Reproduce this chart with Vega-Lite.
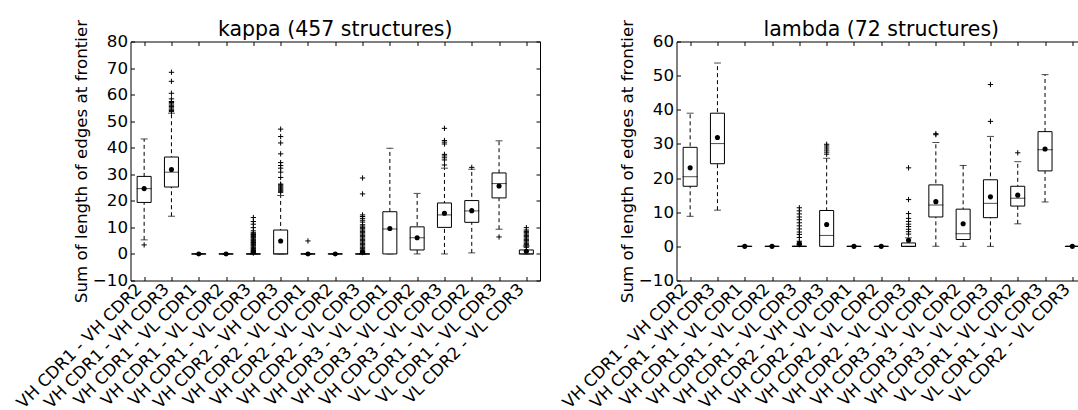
{
  "$schema": "https://vega.github.io/schema/vega-lite/v6.json",
  "background": "white",
  "padding": {"left": 13.5, "top": 18.5, "right": 0, "bottom": 0},
  "spacing": 136,
  "bounds": "flush",
  "datasets": {
    "kstats": [
      {"c": "VH CDR1 - VH CDR2", "q1": 19.4, "med": 24.6, "q3": 29.2, "lo": 5.3, "hi": 43.3, "mean": 24.6},
      {"c": "VH CDR1 - VH CDR3", "q1": 25.2, "med": 30.8, "q3": 36.5, "lo": 14.2, "hi": 53.0, "mean": 31.8},
      {"c": "VH CDR1 - VL CDR1", "q1": 0, "med": 0, "q3": 0, "lo": 0, "hi": 0, "mean": 0},
      {"c": "VH CDR1 - VL CDR2", "q1": 0, "med": 0, "q3": 0, "lo": 0, "hi": 0, "mean": 0},
      {"c": "VH CDR1 - VL CDR3", "q1": 0, "med": 0, "q3": 0, "lo": 0, "hi": 0, "mean": 0.8},
      {"c": "VH CDR2 - VH CDR3", "q1": 0, "med": 0, "q3": 9.0, "lo": 0, "hi": 22.0, "mean": 4.9},
      {"c": "VH CDR2 - VL CDR1", "q1": 0, "med": 0, "q3": 0, "lo": 0, "hi": 0, "mean": 0},
      {"c": "VH CDR2 - VL CDR2", "q1": 0, "med": 0, "q3": 0, "lo": 0, "hi": 0, "mean": 0},
      {"c": "VH CDR2 - VL CDR3", "q1": 0, "med": 0, "q3": 0, "lo": 0, "hi": 0, "mean": 0.8},
      {"c": "VH CDR3 - VL CDR1", "q1": 0, "med": 9.4, "q3": 15.9, "lo": 0, "hi": 39.8, "mean": 9.6},
      {"c": "VH CDR3 - VL CDR2", "q1": 1.5, "med": 6.1, "q3": 10.2, "lo": 0, "hi": 22.8, "mean": 6.1},
      {"c": "VH CDR3 - VL CDR3", "q1": 10.0, "med": 14.7, "q3": 19.2, "lo": 0, "hi": 32.3, "mean": 15.3},
      {"c": "VL CDR1 - VL CDR2", "q1": 11.9, "med": 16.2, "q3": 20.1, "lo": 0.4, "hi": 31.9, "mean": 16.3},
      {"c": "VL CDR1 - VL CDR3", "q1": 21.1, "med": 26.5, "q3": 30.5, "lo": 9.3, "hi": 42.6, "mean": 25.6},
      {"c": "VL CDR2 - VL CDR3", "q1": 0, "med": 0, "q3": 1.5, "lo": 0, "hi": 3.0, "mean": 1.0}
    ],
    "kout": [
      {"c": "VH CDR1 - VH CDR2", "v": 3.4},
      {"c": "VH CDR1 - VH CDR3", "v": 53.6}, {"c": "VH CDR1 - VH CDR3", "v": 54.0}, {"c": "VH CDR1 - VH CDR3", "v": 54.5},
      {"c": "VH CDR1 - VH CDR3", "v": 55.0}, {"c": "VH CDR1 - VH CDR3", "v": 55.5}, {"c": "VH CDR1 - VH CDR3", "v": 56.0},
      {"c": "VH CDR1 - VH CDR3", "v": 56.5}, {"c": "VH CDR1 - VH CDR3", "v": 57.0}, {"c": "VH CDR1 - VH CDR3", "v": 57.4},
      {"c": "VH CDR1 - VH CDR3", "v": 58.4}, {"c": "VH CDR1 - VH CDR3", "v": 60.5}, {"c": "VH CDR1 - VH CDR3", "v": 65.0},
      {"c": "VH CDR1 - VH CDR3", "v": 68.4},
      {"c": "VH CDR1 - VL CDR3", "v": 0.3}, {"c": "VH CDR1 - VL CDR3", "v": 0.6}, {"c": "VH CDR1 - VL CDR3", "v": 1.0},
      {"c": "VH CDR1 - VL CDR3", "v": 1.3}, {"c": "VH CDR1 - VL CDR3", "v": 1.6}, {"c": "VH CDR1 - VL CDR3", "v": 2.0},
      {"c": "VH CDR1 - VL CDR3", "v": 2.3}, {"c": "VH CDR1 - VL CDR3", "v": 2.6}, {"c": "VH CDR1 - VL CDR3", "v": 3.0},
      {"c": "VH CDR1 - VL CDR3", "v": 3.3}, {"c": "VH CDR1 - VL CDR3", "v": 3.6}, {"c": "VH CDR1 - VL CDR3", "v": 4.0},
      {"c": "VH CDR1 - VL CDR3", "v": 4.3}, {"c": "VH CDR1 - VL CDR3", "v": 4.6}, {"c": "VH CDR1 - VL CDR3", "v": 5.0},
      {"c": "VH CDR1 - VL CDR3", "v": 5.3}, {"c": "VH CDR1 - VL CDR3", "v": 5.6}, {"c": "VH CDR1 - VL CDR3", "v": 6.0},
      {"c": "VH CDR1 - VL CDR3", "v": 6.3}, {"c": "VH CDR1 - VL CDR3", "v": 6.6}, {"c": "VH CDR1 - VL CDR3", "v": 7.0},
      {"c": "VH CDR1 - VL CDR3", "v": 7.3}, {"c": "VH CDR1 - VL CDR3", "v": 7.6}, {"c": "VH CDR1 - VL CDR3", "v": 8.0},
      {"c": "VH CDR1 - VL CDR3", "v": 8.7}, {"c": "VH CDR1 - VL CDR3", "v": 9.9}, {"c": "VH CDR1 - VL CDR3", "v": 11.2},
      {"c": "VH CDR1 - VL CDR3", "v": 12.2}, {"c": "VH CDR1 - VL CDR3", "v": 13.7},
      {"c": "VH CDR2 - VH CDR3", "v": 23.2}, {"c": "VH CDR2 - VH CDR3", "v": 23.6}, {"c": "VH CDR2 - VH CDR3", "v": 24.0},
      {"c": "VH CDR2 - VH CDR3", "v": 24.4}, {"c": "VH CDR2 - VH CDR3", "v": 24.8}, {"c": "VH CDR2 - VH CDR3", "v": 25.2},
      {"c": "VH CDR2 - VH CDR3", "v": 25.6}, {"c": "VH CDR2 - VH CDR3", "v": 26.0}, {"c": "VH CDR2 - VH CDR3", "v": 26.3},
      {"c": "VH CDR2 - VH CDR3", "v": 28.8}, {"c": "VH CDR2 - VH CDR3", "v": 30.8}, {"c": "VH CDR2 - VH CDR3", "v": 32.3},
      {"c": "VH CDR2 - VH CDR3", "v": 33.3}, {"c": "VH CDR2 - VH CDR3", "v": 34.4}, {"c": "VH CDR2 - VH CDR3", "v": 37.7},
      {"c": "VH CDR2 - VH CDR3", "v": 41.8}, {"c": "VH CDR2 - VH CDR3", "v": 44.2}, {"c": "VH CDR2 - VH CDR3", "v": 47.0},
      {"c": "VH CDR2 - VL CDR1", "v": 4.9},
      {"c": "VH CDR2 - VL CDR3", "v": 0.5}, {"c": "VH CDR2 - VL CDR3", "v": 1.0}, {"c": "VH CDR2 - VL CDR3", "v": 1.5},
      {"c": "VH CDR2 - VL CDR3", "v": 2.0}, {"c": "VH CDR2 - VL CDR3", "v": 2.5}, {"c": "VH CDR2 - VL CDR3", "v": 3.0},
      {"c": "VH CDR2 - VL CDR3", "v": 3.5}, {"c": "VH CDR2 - VL CDR3", "v": 4.0}, {"c": "VH CDR2 - VL CDR3", "v": 4.5},
      {"c": "VH CDR2 - VL CDR3", "v": 5.0}, {"c": "VH CDR2 - VL CDR3", "v": 5.5}, {"c": "VH CDR2 - VL CDR3", "v": 6.0},
      {"c": "VH CDR2 - VL CDR3", "v": 6.5}, {"c": "VH CDR2 - VL CDR3", "v": 7.0}, {"c": "VH CDR2 - VL CDR3", "v": 7.5},
      {"c": "VH CDR2 - VL CDR3", "v": 8.0}, {"c": "VH CDR2 - VL CDR3", "v": 8.5}, {"c": "VH CDR2 - VL CDR3", "v": 9.0},
      {"c": "VH CDR2 - VL CDR3", "v": 9.5}, {"c": "VH CDR2 - VL CDR3", "v": 10.0}, {"c": "VH CDR2 - VL CDR3", "v": 10.5},
      {"c": "VH CDR2 - VL CDR3", "v": 11.0}, {"c": "VH CDR2 - VL CDR3", "v": 12.0}, {"c": "VH CDR2 - VL CDR3", "v": 12.7},
      {"c": "VH CDR2 - VL CDR3", "v": 13.4}, {"c": "VH CDR2 - VL CDR3", "v": 14.1}, {"c": "VH CDR2 - VL CDR3", "v": 14.7},
      {"c": "VH CDR2 - VL CDR3", "v": 22.6}, {"c": "VH CDR2 - VL CDR3", "v": 28.6},
      {"c": "VH CDR3 - VL CDR3", "v": 33.5}, {"c": "VH CDR3 - VL CDR3", "v": 35.4}, {"c": "VH CDR3 - VL CDR3", "v": 36.2},
      {"c": "VH CDR3 - VL CDR3", "v": 36.9}, {"c": "VH CDR3 - VL CDR3", "v": 37.5}, {"c": "VH CDR3 - VL CDR3", "v": 41.4},
      {"c": "VH CDR3 - VL CDR3", "v": 42.1}, {"c": "VH CDR3 - VL CDR3", "v": 42.7}, {"c": "VH CDR3 - VL CDR3", "v": 47.3},
      {"c": "VL CDR1 - VL CDR2", "v": 32.6},
      {"c": "VL CDR1 - VL CDR3", "v": 6.4},
      {"c": "VL CDR2 - VL CDR3", "v": 2.5}, {"c": "VL CDR2 - VL CDR3", "v": 3.0}, {"c": "VL CDR2 - VL CDR3", "v": 3.5},
      {"c": "VL CDR2 - VL CDR3", "v": 4.0}, {"c": "VL CDR2 - VL CDR3", "v": 4.5}, {"c": "VL CDR2 - VL CDR3", "v": 5.0},
      {"c": "VL CDR2 - VL CDR3", "v": 5.5}, {"c": "VL CDR2 - VL CDR3", "v": 6.0}, {"c": "VL CDR2 - VL CDR3", "v": 6.5},
      {"c": "VL CDR2 - VL CDR3", "v": 7.0}, {"c": "VL CDR2 - VL CDR3", "v": 7.5}, {"c": "VL CDR2 - VL CDR3", "v": 8.0},
      {"c": "VL CDR2 - VL CDR3", "v": 8.5}, {"c": "VL CDR2 - VL CDR3", "v": 9.0}, {"c": "VL CDR2 - VL CDR3", "v": 9.9}
    ],
    "lstats": [
      {"c": "VH CDR1 - VH CDR2", "q1": 17.6, "med": 20.4, "q3": 29.0, "lo": 8.8, "hi": 39.0, "mean": 23.0},
      {"c": "VH CDR1 - VH CDR3", "q1": 24.2, "med": 30.1, "q3": 39.0, "lo": 10.6, "hi": 53.7, "mean": 31.9},
      {"c": "VH CDR1 - VL CDR1", "q1": 0, "med": 0, "q3": 0, "lo": 0, "hi": 0, "mean": 0},
      {"c": "VH CDR1 - VL CDR2", "q1": 0, "med": 0, "q3": 0, "lo": 0, "hi": 0, "mean": 0},
      {"c": "VH CDR1 - VL CDR3", "q1": 0, "med": 0, "q3": 0, "lo": 0, "hi": 0, "mean": 0.8},
      {"c": "VH CDR2 - VH CDR3", "q1": 0, "med": 3.2, "q3": 10.5, "lo": 0, "hi": 25.8, "mean": 6.4},
      {"c": "VH CDR2 - VL CDR1", "q1": 0, "med": 0, "q3": 0, "lo": 0, "hi": 0, "mean": 0},
      {"c": "VH CDR2 - VL CDR2", "q1": 0, "med": 0, "q3": 0, "lo": 0, "hi": 0, "mean": 0},
      {"c": "VH CDR2 - VL CDR3", "q1": 0, "med": 0, "q3": 1.0, "lo": 0, "hi": 2.5, "mean": 1.8},
      {"c": "VH CDR3 - VL CDR1", "q1": 8.6, "med": 12.1, "q3": 18.0, "lo": 0, "hi": 30.4, "mean": 13.1},
      {"c": "VH CDR3 - VL CDR2", "q1": 2.0, "med": 3.7, "q3": 10.9, "lo": 0, "hi": 23.7, "mean": 6.6},
      {"c": "VH CDR3 - VL CDR3", "q1": 8.4, "med": 12.6, "q3": 19.5, "lo": 0, "hi": 32.2, "mean": 14.5},
      {"c": "VL CDR1 - VL CDR2", "q1": 11.8, "med": 14.1, "q3": 17.6, "lo": 6.6, "hi": 24.8, "mean": 15.0},
      {"c": "VL CDR1 - VL CDR3", "q1": 22.1, "med": 28.3, "q3": 33.6, "lo": 13.0, "hi": 50.3, "mean": 28.5},
      {"c": "VL CDR2 - VL CDR3", "q1": 0, "med": 0, "q3": 0, "lo": 0, "hi": 0, "mean": 0}
    ],
    "lout": [
      {"c": "VH CDR1 - VL CDR3", "v": 0.5}, {"c": "VH CDR1 - VL CDR3", "v": 0.8}, {"c": "VH CDR1 - VL CDR3", "v": 1.5},
      {"c": "VH CDR1 - VL CDR3", "v": 2.6}, {"c": "VH CDR1 - VL CDR3", "v": 3.5}, {"c": "VH CDR1 - VL CDR3", "v": 4.2},
      {"c": "VH CDR1 - VL CDR3", "v": 5.1}, {"c": "VH CDR1 - VL CDR3", "v": 6.0}, {"c": "VH CDR1 - VL CDR3", "v": 6.9},
      {"c": "VH CDR1 - VL CDR3", "v": 7.8}, {"c": "VH CDR1 - VL CDR3", "v": 8.6}, {"c": "VH CDR1 - VL CDR3", "v": 9.5},
      {"c": "VH CDR1 - VL CDR3", "v": 10.4}, {"c": "VH CDR1 - VL CDR3", "v": 11.3},
      {"c": "VH CDR2 - VH CDR3", "v": 27.0}, {"c": "VH CDR2 - VH CDR3", "v": 27.6}, {"c": "VH CDR2 - VH CDR3", "v": 28.2},
      {"c": "VH CDR2 - VH CDR3", "v": 28.8}, {"c": "VH CDR2 - VH CDR3", "v": 29.4}, {"c": "VH CDR2 - VH CDR3", "v": 29.9},
      {"c": "VH CDR2 - VL CDR3", "v": 3.6}, {"c": "VH CDR2 - VL CDR3", "v": 4.3}, {"c": "VH CDR2 - VL CDR3", "v": 5.0},
      {"c": "VH CDR2 - VL CDR3", "v": 5.8}, {"c": "VH CDR2 - VL CDR3", "v": 6.5}, {"c": "VH CDR2 - VL CDR3", "v": 7.3},
      {"c": "VH CDR2 - VL CDR3", "v": 8.2}, {"c": "VH CDR2 - VL CDR3", "v": 9.6}, {"c": "VH CDR2 - VL CDR3", "v": 13.7},
      {"c": "VH CDR2 - VL CDR3", "v": 23.0},
      {"c": "VH CDR3 - VL CDR1", "v": 32.7}, {"c": "VH CDR3 - VL CDR1", "v": 33.0},
      {"c": "VH CDR3 - VL CDR3", "v": 36.6}, {"c": "VH CDR3 - VL CDR3", "v": 47.4},
      {"c": "VL CDR1 - VL CDR2", "v": 27.4}
    ]
  },
  "hconcat": [
    {
      "width": 409.5,
      "height": 239,
      "title": {"text": "kappa (457 structures)"},
      "resolve": {"axis": {"x": "independent", "y": "independent"}},
      "layer": [
        {
          "data": {"name": "kstats"},
          "mark": {"type": "rule", "color": "black", "strokeWidth": 1, "strokeDash": [4, 3]},
          "encoding": {
            "x": {"field": "c", "type": "nominal", "title": null,
                  "scale": {"type": "point", "padding": 0.5, "domain": ["VH CDR1 - VH CDR2","VH CDR1 - VH CDR3","VH CDR1 - VL CDR1","VH CDR1 - VL CDR2","VH CDR1 - VL CDR3","VH CDR2 - VH CDR3","VH CDR2 - VL CDR1","VH CDR2 - VL CDR2","VH CDR2 - VL CDR3","VH CDR3 - VL CDR1","VH CDR3 - VL CDR2","VH CDR3 - VL CDR3","VL CDR1 - VL CDR2","VL CDR1 - VL CDR3","VL CDR2 - VL CDR3"]},
                  "axis": {"orient": "bottom", "labelAngle": -45, "labelAlign": "right", "labelBaseline": "top", "tickSize": -4, "labelPadding": 4, "labelOffset": -11}},
            "y": {"field": "lo", "type": "quantitative", "title": "Sum of length of edges at frontier",
                  "scale": {"domain": [-10, 80], "nice": false, "zero": false},
                  "axis": {"orient": "left", "values": [-10, 0, 10, 20, 30, 40, 50, 60, 70, 80], "tickSize": -4, "labelPadding": 7}},
            "y2": {"field": "hi"}
          }
        },
        {
          "data": {"name": "kstats"},
          "mark": {"type": "tick", "color": "black", "size": 7, "thickness": 1},
          "encoding": {
            "x": {"field": "c", "type": "nominal", "axis": null},
            "y": {"field": "lo", "type": "quantitative", "axis": null}
          }
        },
        {
          "data": {"name": "kstats"},
          "mark": {"type": "tick", "color": "black", "size": 7, "thickness": 1},
          "encoding": {
            "x": {"field": "c", "type": "nominal", "axis": null},
            "y": {"field": "hi", "type": "quantitative", "axis": null}
          }
        },
        {
          "data": {"name": "kstats"},
          "mark": {"type": "bar", "fill": "white", "stroke": "black", "strokeWidth": 1, "size": 14},
          "encoding": {
            "x": {"field": "c", "type": "nominal", "axis": null},
            "y": {"field": "q1", "type": "quantitative", "axis": null},
            "y2": {"field": "q3"}
          }
        },
        {
          "data": {"name": "kstats"},
          "mark": {"type": "tick", "color": "black", "size": 15, "thickness": 1},
          "encoding": {
            "x": {"field": "c", "type": "nominal", "axis": null},
            "y": {"field": "med", "type": "quantitative", "axis": null}
          }
        },
        {
          "data": {"name": "kstats"},
          "mark": {"type": "point", "shape": "circle", "filled": true, "color": "black", "size": 26, "opacity": 1},
          "encoding": {
            "x": {"field": "c", "type": "nominal", "axis": null},
            "y": {"field": "mean", "type": "quantitative", "axis": null}
          }
        },
        {
          "data": {"name": "kout"},
          "mark": {"type": "point", "shape": "M-1,0H1M0,-1V1", "filled": false, "stroke": "black", "strokeWidth": 1, "size": 28, "opacity": 1},
          "encoding": {
            "x": {"field": "c", "type": "nominal", "axis": null},
            "y": {"field": "v", "type": "quantitative", "axis": null}
          }
        },
        {
          "data": {"name": "kstats"},
          "mark": {"type": "point", "opacity": 0},
          "encoding": {
            "x": {"field": "c", "type": "nominal", "axis": {"orient": "top", "labels": false, "title": null, "tickSize": -4}},
            "y": {"field": "med", "type": "quantitative", "axis": {"orient": "right", "labels": false, "title": null, "tickSize": -4, "values": [-10, 0, 10, 20, 30, 40, 50, 60, 70, 80]}}
          }
        }
      ]
    },
    {
      "width": 401.5,
      "height": 239,
      "title": {"text": "lambda (72 structures)", "dx": 4},
      "resolve": {"axis": {"x": "independent", "y": "independent"}},
      "layer": [
        {
          "data": {"name": "lstats"},
          "mark": {"type": "rule", "color": "black", "strokeWidth": 1, "strokeDash": [4, 3]},
          "encoding": {
            "x": {"field": "c", "type": "nominal", "title": null,
                  "scale": {"type": "point", "padding": 0.3535, "align": 0.707, "domain": ["VH CDR1 - VH CDR2","VH CDR1 - VH CDR3","VH CDR1 - VL CDR1","VH CDR1 - VL CDR2","VH CDR1 - VL CDR3","VH CDR2 - VH CDR3","VH CDR2 - VL CDR1","VH CDR2 - VL CDR2","VH CDR2 - VL CDR3","VH CDR3 - VL CDR1","VH CDR3 - VL CDR2","VH CDR3 - VL CDR3","VL CDR1 - VL CDR2","VL CDR1 - VL CDR3","VL CDR2 - VL CDR3"]},
                  "axis": {"orient": "bottom", "labelAngle": -45, "labelAlign": "right", "labelBaseline": "top", "tickSize": -4, "labelPadding": 4, "labelOffset": -11}},
            "y": {"field": "lo", "type": "quantitative", "title": "Sum of length of edges at frontier",
                  "scale": {"domain": [-10, 60], "nice": false, "zero": false},
                  "axis": {"orient": "left", "values": [-10, 0, 10, 20, 30, 40, 50, 60], "tickSize": -4, "labelPadding": 7}},
            "y2": {"field": "hi"}
          }
        },
        {
          "data": {"name": "lstats"},
          "mark": {"type": "tick", "color": "black", "size": 7, "thickness": 1},
          "encoding": {
            "x": {"field": "c", "type": "nominal", "axis": null},
            "y": {"field": "lo", "type": "quantitative", "axis": null}
          }
        },
        {
          "data": {"name": "lstats"},
          "mark": {"type": "tick", "color": "black", "size": 7, "thickness": 1},
          "encoding": {
            "x": {"field": "c", "type": "nominal", "axis": null},
            "y": {"field": "hi", "type": "quantitative", "axis": null}
          }
        },
        {
          "data": {"name": "lstats"},
          "mark": {"type": "bar", "fill": "white", "stroke": "black", "strokeWidth": 1, "size": 14},
          "encoding": {
            "x": {"field": "c", "type": "nominal", "axis": null},
            "y": {"field": "q1", "type": "quantitative", "axis": null},
            "y2": {"field": "q3"}
          }
        },
        {
          "data": {"name": "lstats"},
          "mark": {"type": "tick", "color": "black", "size": 15, "thickness": 1},
          "encoding": {
            "x": {"field": "c", "type": "nominal", "axis": null},
            "y": {"field": "med", "type": "quantitative", "axis": null}
          }
        },
        {
          "data": {"name": "lstats"},
          "mark": {"type": "point", "shape": "circle", "filled": true, "color": "black", "size": 26, "opacity": 1},
          "encoding": {
            "x": {"field": "c", "type": "nominal", "axis": null},
            "y": {"field": "mean", "type": "quantitative", "axis": null}
          }
        },
        {
          "data": {"name": "lout"},
          "mark": {"type": "point", "shape": "M-1,0H1M0,-1V1", "filled": false, "stroke": "black", "strokeWidth": 1, "size": 28, "opacity": 1},
          "encoding": {
            "x": {"field": "c", "type": "nominal", "axis": null},
            "y": {"field": "v", "type": "quantitative", "axis": null}
          }
        },
        {
          "data": {"name": "lstats"},
          "mark": {"type": "point", "opacity": 0},
          "encoding": {
            "x": {"field": "c", "type": "nominal", "axis": {"orient": "top", "labels": false, "title": null, "tickSize": -4}},
            "y": {"field": "med", "type": "quantitative", "axis": null}
          }
        }
      ]
    }
  ],
  "config": {
    "font": "DejaVu Sans",
    "view": {"stroke": null, "fill": "white"},
    "title": {"font": "DejaVu Sans", "fontSize": 20.5, "fontWeight": "normal", "color": "black", "offset": -21},
    "axis": {
      "domain": true,
      "domainColor": "black",
      "domainWidth": 1,
      "grid": false,
      "tickColor": "black",
      "tickWidth": 1,
      "minExtent": 0,
      "labelFont": "DejaVu Sans",
      "labelFontSize": 16.7,
      "labelColor": "black",
      "labelOverlap": false,
      "labelBound": false,
      "labelFlush": false,
      "titleFont": "DejaVu Sans",
      "titleFontSize": 16.7,
      "titleFontWeight": "normal",
      "titleColor": "black",
      "titlePadding": 2
    }
  }
}
